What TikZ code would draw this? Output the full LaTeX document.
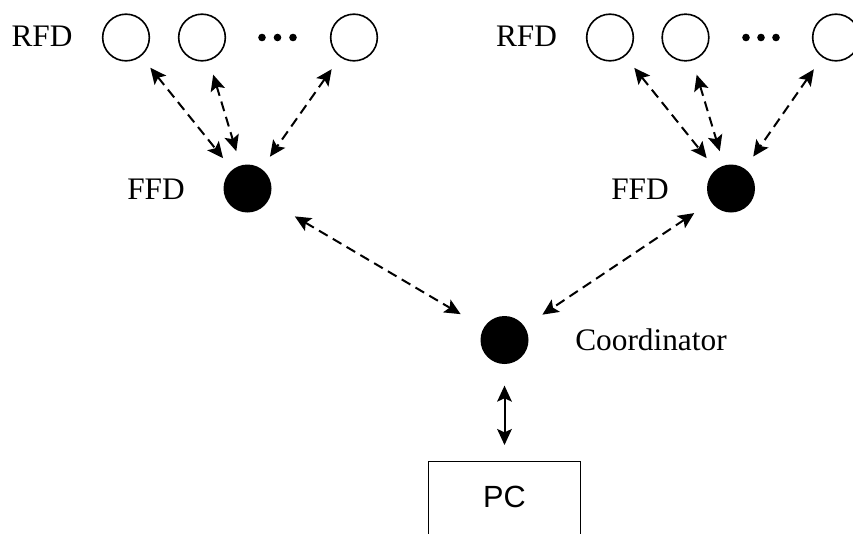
\documentclass[tikz,border=0pt]{standalone}
\usepackage{fontspec}
\setmainfont{Liberation Serif}
\setsansfont{Liberation Sans}
\usetikzlibrary{arrows.meta}
\begin{document}
\begin{tikzpicture}[x=0.75pt,y=-0.75pt,
  rfd/.style={circle,draw,line width=1.2pt,minimum size=35pt,inner sep=0pt},
  ffd/.style={circle,fill=black,minimum size=36pt,inner sep=0pt},
  lbl/.style={font=\fontsize{23.5}{28}\selectfont,inner sep=0pt},
  link/.style={line width=1.5pt,dash pattern=on 7.5pt off 4.5pt,{Stealth[length=12pt,width=11pt,inset=2.5pt]}-{Stealth[length=12pt,width=11pt,inset=2.5pt]}},
  wire/.style={line width=1.5pt,{Stealth[length=12pt,width=11pt,inset=2.5pt]}-{Stealth[length=12pt,width=11pt,inset=2.5pt]}},
  pcbox/.style={draw,line width=1pt,minimum width=114pt,minimum height=70pt,inner sep=0pt}]
\useasboundingbox (0,0) rectangle (853,533);
% left group
\node[lbl] (rfdL) at (42,36) {RFD};
\node[rfd] (l1) at (126,37.5) {};
\node[rfd] (l2) at (202,37.5) {};
\node[rfd] (l3) at (354,37.5) {};
\foreach \x in {262,277.5,293} \fill (\x,37.5) circle (3.8);
\node[ffd] (fl) at (247.5,188.5) {};
\node[lbl] (ffdL) at (156,189) {FFD};
% right group
\node[lbl] (rfdR) at (526.5,36) {RFD};
\node[rfd] (r1) at (610,37.5) {};
\node[rfd] (r2) at (685.5,37.5) {};
\node[rfd] (r3) at (836,37.5) {};
\foreach \x in {746,761,776} \fill (\x,37.5) circle (3.8);
\node[ffd] (fr) at (731,188.5) {};
\node[lbl] (ffdR) at (640,189) {FFD};
% coordinator
\node[ffd] (co) at (504.5,340) {};
\node[lbl,anchor=west] (coL) at (575,340) {Coordinator};
% PC
\node[pcbox,anchor=north] (pc) at (504.5,461) {};
\node[font=\sffamily\fontsize{23}{27}\selectfont,inner sep=0pt] (pcL) at (504.5,497) {PC};
% connectors
\foreach \a in {l1,l2,l3} \draw[link,shorten <=11pt,shorten >=11pt] (\a) -- (fl);
\foreach \a in {r1,r2,r3} \draw[link,shorten <=11pt,shorten >=11pt] (\a) -- (fr);
\draw[link,shorten <=23pt,shorten >=20pt] (fl) -- (co);
\draw[link,shorten <=15pt,shorten >=16pt] (fr) -- (co);
\draw[wire,shorten <=16pt,shorten >=12pt] (co) -- (pc);
\end{tikzpicture}
\end{document}
